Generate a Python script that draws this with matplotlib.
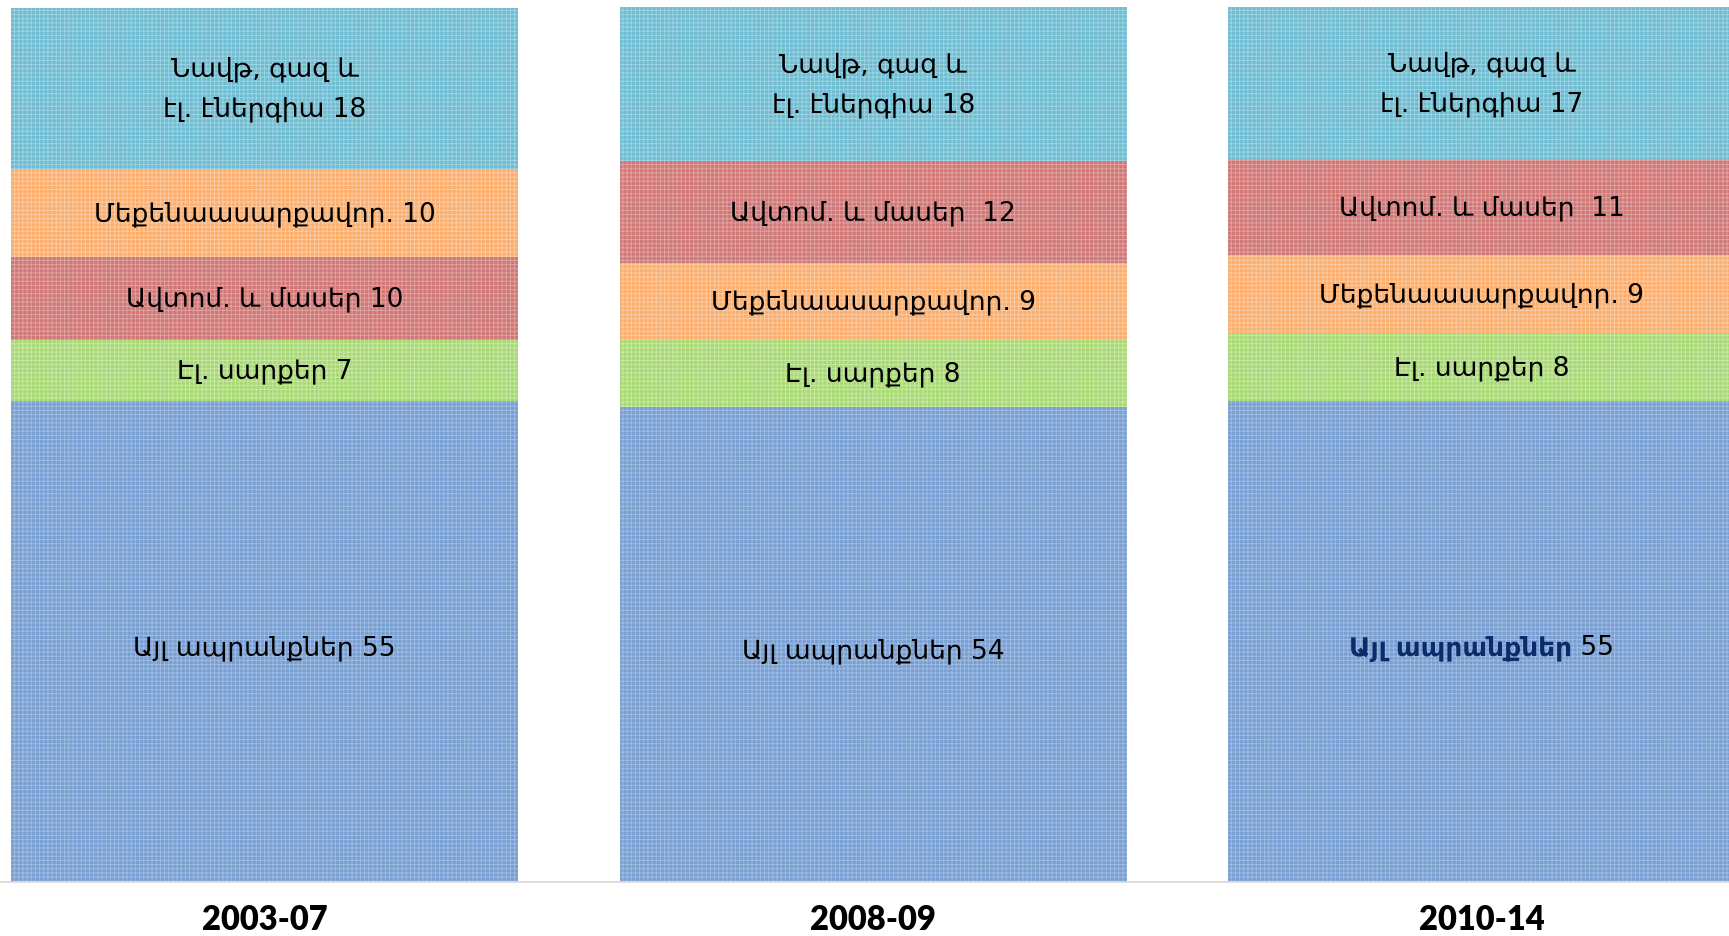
import numpy as np
import matplotlib.pyplot as plt

plt.rcParams["hatch.linewidth"] = 0.7

periods = ["2003-07", "2008-09", "2010-14"]
categories = ["Այլ ապրանքներ", "Էլ. սարքեր", "Ավտոմ. և մասեր", "Մեքենաասարքավոր.", "Նավթ, գազ և\nէլ. էներգիա"]

# segment heights (share, %)
other = [55.0, 54.3, 55.0]
electr = [7.0, 7.6, 7.6]
auto = [9.4, 11.7, 10.8]
mach = [10.1, 8.8, 9.1]
oil = [18.4, 17.6, 17.5]

# numbers written in the labels
other_lbl = [55, 54, 55]
electr_lbl = [7, 8, 8]
auto_lbl = [10, 12, 11]
mach_lbl = [10, 9, 9]
oil_lbl = [18, 18, 17]

# stacking order in each bar (bottom -> top), indices into categories
orders = [[0, 1, 2, 3, 4], [0, 1, 3, 2, 4], [0, 1, 3, 2, 4]]

colors = ["#789fd2", "#a8d875", "#d07675", "#fbad6c", "#6dbcd2"]
hatch_cols = ["#9ebbe2", "#c6e8a2", "#e0a2a1", "#fdcaa0", "#9cd3e2"]

heights = np.array([other, electr, auto, mach, oil])
lbls = np.array([other_lbl, electr_lbl, auto_lbl, mach_lbl, oil_lbl])

fig = plt.figure(figsize=(17.29, 9.37), dpi=100)
ax = fig.add_axes([0, 54 / 937, 1, 875 / 937])

width = 0.833
txt_font = ["DejaVu Sans"]
fs = 19
blue_parts = []
for i, p in enumerate(periods):
    bottom = 0
    for c in orders[i]:
        h = heights[c, i]
        ax.bar(i, h, width, bottom=bottom, color=colors[c], edgecolor=hatch_cols[c],
               linewidth=0, hatch="++++")
        sep = "  " if (c == 2 and i > 0) else " "
        yc = bottom + h / 2
        if c == 0:
            yc -= 0.7
        if c == 0 and i == 2:
            t1 = ax.text(i, yc, categories[c], ha="center", va="center", fontsize=fs,
                         fontweight="bold", color="#0d2a6b", family=txt_font)
            t2 = ax.text(i, yc, " " + str(lbls[c, i]), ha="left", va="center",
                         fontsize=fs, color="black", family=txt_font)
            blue_parts.append((t1, t2, i))
        else:
            ax.text(i, yc, categories[c] + sep + str(lbls[c, i]), ha="center", va="center",
                    fontsize=fs, color="black", family=txt_font, linespacing=1.7)
        bottom += h

ax.set_xlim(-0.4345, 2.406)
ax.set_ylim(0, 100)
ax.axhline(0, color="#d9d9d9", linewidth=1.2, clip_on=False)
ax.axis("off")

for i, p in enumerate(periods):
    ax.text(i, -4.2, p, ha="center", va="center", fontsize=23.5, fontweight="heavy",
            family=["Lato", "DejaVu Sans"])

# put the bold name and the plain number side by side, centered together
fig.canvas.draw()
r = fig.canvas.get_renderer()
for t1, t2, i in blue_parts:
    w1 = t1.get_window_extent(r).width
    w2 = t2.get_window_extent(r).width
    xc = ax.transData.transform((i, 0))[0]
    left = xc - (w1 + w2) / 2
    inv = ax.transData.inverted()
    t1.set_ha("left")
    t1.set_x(inv.transform((left, 0))[0])
    t2.set_x(inv.transform((left + w1, 0))[0])

fig.savefig("out.png", dpi=100)
